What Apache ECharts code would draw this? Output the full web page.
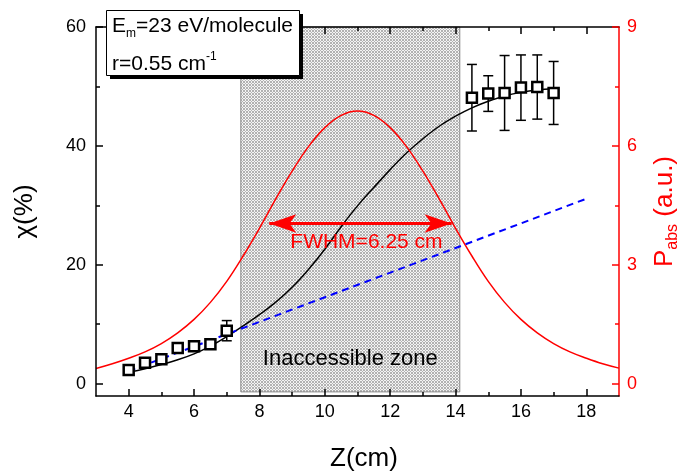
<!DOCTYPE html>
<html>
<head>
<meta charset="utf-8">
<script src="https://cdn.jsdelivr.net/npm/echarts@6/dist/echarts.min.js"></script>
<style>
html, body { margin: 0; padding: 0; background: #fff; }
#chart { width: 683px; height: 471px; }
</style>
</head>
<body>
<div id="chart"></div>
<script>
// measured points, chi (%)
const zPts = [4, 4.5, 5, 5.5, 6, 6.5, 7, 14.5, 15, 15.5, 16, 16.5, 17]
const chiPts = [2.3, 3.5, 4.1, 6.0, 6.3, 6.6, 8.9, 48.1, 48.8, 48.9, 49.8, 49.9, 48.9]
const chiErr = [0, 0, 0, 0, 0, 0, 1.7, 5.6, 3.0, 6.3, 5.5, 5.4, 5.3]

// fitted curve (black)
const fitZ = [4, 4.5, 5, 5.5, 6, 6.5, 7, 7.5, 8, 8.5, 9, 9.5, 10, 10.5, 11, 11.5, 12, 12.5, 13, 13.5, 14, 14.5, 15, 15.5, 16, 16.5, 17]
const fitChi = [1.9, 2.5, 3.2, 4.0, 5.0, 6.3, 7.9, 9.7, 11.6, 13.7, 16.2, 19.2, 22.6, 26.4, 29.9, 33.0, 36.0, 38.8, 41.2, 43.3, 45.0, 46.4, 47.5, 48.4, 49.0, 49.4, 49.6]

// linear trend (blue dashed)
const trendZ = [4, 18]
const trendChi = [2.1, 31.1]

// absorbed power profile (red, right axis)
const pZ = [3, 3.5, 4, 4.5, 5, 5.5, 6, 6.5, 7, 7.5, 8, 8.5, 9, 9.5, 10, 10.5, 11, 11.5, 12, 12.5, 13, 13.5, 14, 14.5, 15, 15.5, 16, 16.5, 17, 17.5, 18, 18.5, 19]
const pAbs = [0.38, 0.5, 0.64, 0.8, 1.01, 1.28, 1.62, 2.05, 2.58, 3.22, 3.92, 4.66, 5.36, 5.98, 6.46, 6.77, 6.88, 6.77, 6.46, 5.98, 5.36, 4.66, 3.92, 3.22, 2.58, 2.05, 1.62, 1.28, 1.01, 0.8, 0.64, 0.5, 0.39]

// inaccessible zone and FWHM arrow
const zoneZ = [7.43, 14.13]
const zoneChi = [-1.4, 60]
const fwhmZ = [8.3, 13.88]
const fwhmP = 4.04

// ticks
const xMajor = [4, 6, 8, 10, 12, 14, 16, 18]
const xMinor = [5, 7, 9, 11, 13, 15, 17]
const yLeftMajor = [0, 20, 40, 60]
const yLeftMinor = [10, 30, 50]
const yRightMajor = [0, 3, 6, 9]
const yRightMinor = [1.5, 4.5, 7.5]

const font = "'Liberation Sans', Arial, sans-serif"
const pair = (xs, ys) => xs.map((x, i) => [x, ys[i]])

// grey grid fill for the zone
const makeTile = () => {
    const tile = document.createElement('canvas')
    tile.width = 3; tile.height = 3
    const tc = tile.getContext('2d')
    tc.fillStyle = '#b2b2b2'; tc.fillRect(0, 0, 3, 3)
    tc.fillStyle = '#f4f4f4'; tc.fillRect(0, 2, 2, 1); tc.fillRect(2, 0, 1, 2)
    return tile
}

const xAxisOf = (pos, ticks, len, showLine, showLabel, extra = {}) => Object.assign({
    type: 'value', min: 3, max: 19, position: pos, z: 4,
    axisLine: { show: showLine, onZero: false, lineStyle: { color: '#000', width: 1.5 } },
    axisTick: { show: true, inside: true, length: len, customValues: ticks, lineStyle: { color: '#000', width: 1.5 } },
    axisLabel: { show: showLabel, customValues: ticks, color: '#000', fontSize: 18, fontFamily: font, margin: 7 },
    splitLine: { show: false }
}, extra)

const yAxisOf = (pos, min, max, ticks, len, color, showLine, showLabel, extra = {}) => Object.assign({
    type: 'value', min: min, max: max, position: pos, z: 4,
    axisLine: { show: showLine, onZero: false, lineStyle: { color: color, width: 1.5 } },
    axisTick: { show: true, inside: true, length: len, customValues: ticks, lineStyle: { color: color, width: 1.5 } },
    axisLabel: { show: showLabel, customValues: ticks, color: color, fontSize: 18, fontFamily: font, margin: pos === 'left' ? 10 : 8 },
    splitLine: { show: false }
}, extra)

const errorItem = (params, api) => {
    const x = api.value(0), y = api.value(1), e = api.value(2)
    if (!e) return null
    const top = api.coord([x, y + e])
    const bot = api.coord([x, y - e])
    const w = 5
    const st = { stroke: '#000', lineWidth: 1.5 }
    return {
        type: 'group',
        children: [
            { type: 'line', shape: { x1: top[0], y1: top[1], x2: bot[0], y2: bot[1] }, style: st },
            { type: 'line', shape: { x1: top[0] - w, y1: top[1], x2: top[0] + w, y2: top[1] }, style: st },
            { type: 'line', shape: { x1: bot[0] - w, y1: bot[1], x2: bot[0] + w, y2: bot[1] }, style: st }
        ]
    }
}

const chart = echarts.init(document.getElementById('chart'), null, { renderer: 'canvas' })

const option = {
    animation: false,
    backgroundColor: '#fff',
    textStyle: { fontFamily: font },
    grid: { left: 96, right: 64, top: 27, bottom: 75, containLabel: false, outerBoundsMode: 'none' },
    xAxis: [
        xAxisOf('bottom', xMajor, 7, true, true, {
            name: 'Z(cm)', nameLocation: 'middle', nameGap: 50,
            nameTextStyle: { fontSize: 26, color: '#000', fontFamily: font, padding: [0, 0, 0, 13] }
        }),
        xAxisOf('bottom', xMinor, 4, false, false),
        xAxisOf('top', xMajor, 7, true, false),
        xAxisOf('top', xMinor, 4, false, false)
    ],
    yAxis: [
        yAxisOf('left', -2.09, 60, yLeftMajor, 7, '#000', true, true, {
            name: 'χ(%)', nameLocation: 'middle', nameGap: 58,
            nameTextStyle: { fontSize: 26, color: '#000', fontFamily: font }
        }),
        yAxisOf('left', -2.09, 60, yLeftMinor, 4, '#000', false, false),
        yAxisOf('right', -0.313, 9, yRightMajor, 7, '#ff0000', true, true, {
            name: '{p|P}{s|abs}{p| (a.u.)}', nameLocation: 'middle', nameGap: 30,
            nameTextStyle: {
                color: '#ff0000', fontFamily: font,
                rich: {
                    p: { fontSize: 26, color: '#ff0000', fontFamily: font },
                    s: { fontSize: 16, color: '#ff0000', fontFamily: font, padding: [16, 0, 0, 0] }
                }
            }
        }),
        yAxisOf('right', -0.313, 9, yRightMinor, 4, '#ff0000', false, false)
    ],
    series: [
        {
            name: 'fit', type: 'line', xAxisIndex: 0, yAxisIndex: 0, z: 3,
            data: pair(fitZ, fitChi), smooth: 0.4, showSymbol: false,
            lineStyle: { color: '#000', width: 1.5 },
            markArea: {
                silent: true, z: 1,
                itemStyle: { color: { image: makeTile(), repeat: 'repeat' }, borderColor: '#8c8c8c', borderWidth: 1 },
                label: {
                    show: true, position: 'insideBottom', distance: 22,
                    formatter: 'Inaccessible zone', fontSize: 22, color: '#000', fontFamily: font
                },
                data: [[{ coord: [zoneZ[0], zoneChi[0]] }, { coord: [zoneZ[1], zoneChi[1]] }]]
            }
        },
        {
            name: 'Pabs', type: 'line', xAxisIndex: 0, yAxisIndex: 2, z: 3,
            data: pair(pZ, pAbs), smooth: 0.4, showSymbol: false,
            lineStyle: { color: '#ff0000', width: 1.5 },
            markLine: {
                silent: true, z: 5,
                symbol: ['arrow', 'arrow'], symbolSize: [14, 27],
                lineStyle: { color: '#ff0000', width: 3, type: 'solid' },
                label: {
                    show: true, position: 'insideMiddleBottom', distance: 8,
                    formatter: 'FWHM=6.25 cm', fontSize: 21, color: '#ff0000', fontFamily: font,
                    padding: [0, 0, 0, 12]
                },
                data: [[{ coord: [fwhmZ[0], fwhmP] }, { coord: [fwhmZ[1], fwhmP] }]]
            }
        },
        {
            name: 'trend', type: 'line', xAxisIndex: 0, yAxisIndex: 0, z: 4,
            data: pair(trendZ, trendChi), showSymbol: false,
            lineStyle: { color: '#0000ff', width: 2, type: [7, 5] }
        },
        {
            name: 'err', type: 'custom', xAxisIndex: 0, yAxisIndex: 0, z: 5,
            data: zPts.map((z, i) => [z, chiPts[i], chiErr[i]]),
            encode: { x: 0, y: 1 },
            renderItem: errorItem
        },
        {
            name: 'chi', type: 'scatter', xAxisIndex: 0, yAxisIndex: 0, z: 6,
            data: pair(zPts, chiPts), symbol: 'rect', symbolSize: 10,
            itemStyle: { color: '#fff', borderColor: '#000', borderWidth: 2.5, opacity: 1 }
        }
    ],
    graphic: [
        { type: 'rect', left: 110, top: 14, shape: { width: 193, height: 65 }, style: { fill: '#000' }, z: 10 },
        { type: 'rect', left: 106, top: 10, shape: { width: 193, height: 65 }, style: { fill: '#fff', stroke: '#000', lineWidth: 1 }, z: 11 },
        {
            type: 'text', x: 112, y: 26, z: 12,
            style: {
                text: '{n|E}{s|m}{n|=23 eV/molecule}', verticalAlign: 'middle', fill: '#000',
                rich: {
                    n: { fontSize: 21, fontFamily: font, fill: '#000' },
                    s: { fontSize: 12, fontFamily: font, fill: '#000', padding: [16, 0, 0, 0] }
                }
            }
        },
        {
            type: 'text', x: 112, y: 64, z: 12,
            style: {
                text: '{n|r=0.55 cm}{u|-1}', verticalAlign: 'middle', fill: '#000',
                rich: {
                    n: { fontSize: 21, fontFamily: font, fill: '#000' },
                    u: { fontSize: 12, fontFamily: font, fill: '#000', padding: [0, 0, 14, 0] }
                }
            }
        }
    ]
}

chart.setOption(option)
</script>
</body>
</html>
